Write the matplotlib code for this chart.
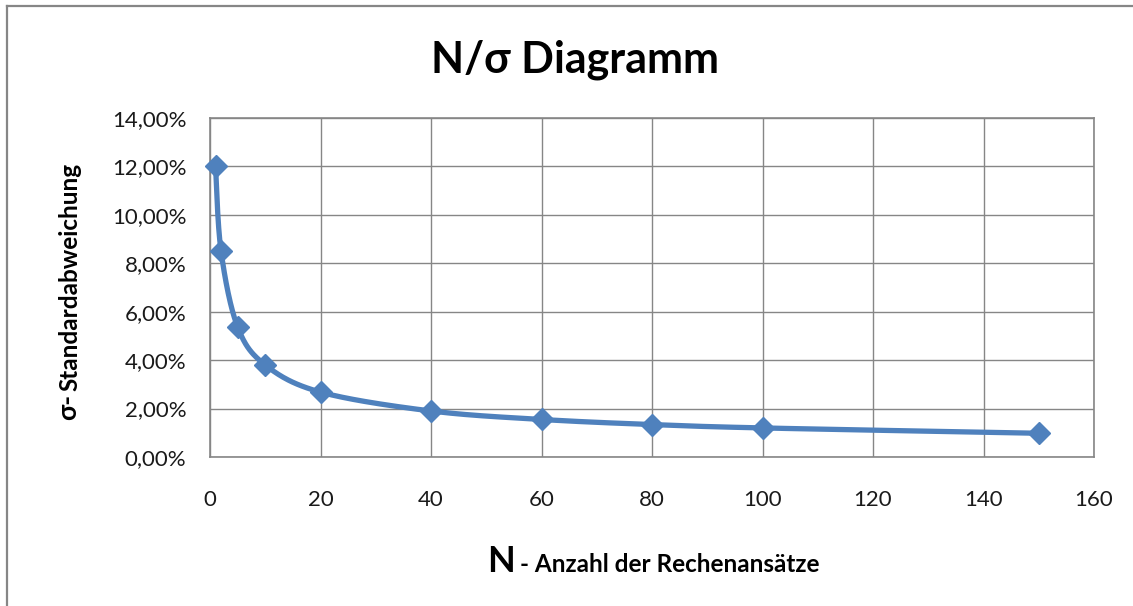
import matplotlib
matplotlib.use("Agg")
import matplotlib.pyplot as plt
import numpy as np
from matplotlib.ticker import FuncFormatter, MultipleLocator
from matplotlib.lines import Line2D

plt.rcParams['font.family'] = ['Lato', 'DejaVu Sans']

# data
n_values = [1, 2, 5, 10, 20, 40, 60, 80, 100, 150]
sigma_values = [0.120, 0.085, 0.0537, 0.038, 0.0268, 0.019, 0.0155, 0.0134, 0.012, 0.0098]

title = 'N/σ Diagramm'
blue = '#4F81BD'
gray = '#868686'

W, H = 1133, 606


def smooth_line(xs, ys, sx, sy, steps=40):
  # Catmull-Rom through the points, done in pixel-like units (like Excel "smoothed line")
  px = np.array(xs, float) * sx
  py = np.array(ys, float) * sy
  P = np.column_stack([px, py])
  P = np.vstack([P[0], P, P[-1]])
  out = []
  for i in range(1, len(P) - 2):
    p0, p1, p2, p3 = P[i - 1], P[i], P[i + 1], P[i + 2]
    c1 = p1 + (p2 - p0) / 6.0
    c2 = p2 - (p3 - p1) / 6.0
    t = np.linspace(0, 1, steps)[:, None]
    seg = (1 - t) ** 3 * p1 + 3 * (1 - t) ** 2 * t * c1 + 3 * (1 - t) * t ** 2 * c2 + t ** 3 * p2
    out.append(seg if i == 1 else seg[1:])
  out = np.vstack(out)
  return out[:, 0] / sx, out[:, 1] / sy


fig = plt.figure(figsize=(W / 100, H / 100), dpi=100)
ax = fig.add_axes([210 / W, 1 - 457 / H, (1094 - 210) / W, (457 - 118) / H])

ax.set_xlim(0, 160)
ax.set_ylim(0, 0.14)
ax.xaxis.set_major_locator(MultipleLocator(20))
ax.yaxis.set_major_locator(MultipleLocator(0.02))
ax.yaxis.set_major_formatter(FuncFormatter(lambda v, p: f"{v * 100:.2f}%".replace('.', ',')))
ax.grid(True, color=gray, linewidth=1.0)
ax.set_axisbelow(True)
for s in ax.spines.values():
  s.set_color(gray)
  s.set_linewidth(1.2)
ax.tick_params(length=0, labelsize=16, colors='#1a1a1a')
ax.tick_params(axis='x', pad=24)
ax.tick_params(axis='y', pad=17)

# pixel scale of the axes for the smoothing
sx = (1094 - 210) / 160
sy = (457 - 118) / 0.14
lx, ly = smooth_line(n_values, sigma_values, sx, sy)
ax.plot(lx, ly, color=blue, linewidth=3.8, solid_capstyle='round', zorder=3)
ax.plot(n_values, sigma_values, linestyle='none', marker='D', markersize=11,
        color=blue, zorder=4, clip_on=False)

fig.text(575 / W, 1 - 60 / H, title, ha='center', va='center', fontsize=31, fontweight='bold')

# x label: big bold N, then the rest
fig.canvas.draw()
r = fig.canvas.get_renderer()
tN = fig.text(487 / W, 1 - 572 / H, 'N', fontsize=26, fontweight='bold', ha='left', va='baseline')
bb = tN.get_window_extent(r)
fig.text((bb.x1 + 5) / W, 1 - 572 / H, '- Anzahl der Rechenansätze', fontsize=17.5,
         fontweight='bold', ha='left', va='baseline')

# y label: bold sigma then the rest, rotated
ts = fig.text(68 / W, 1 - 420 / H, 'σ-', fontsize=19, fontweight='bold', rotation=90,
              ha='center', va='bottom')
bb = ts.get_window_extent(r)
fig.text(70 / W, (bb.y1 + 3) / H, 'Standardabweichung', fontsize=17.5, fontweight='bold',
         rotation=90, ha='center', va='bottom')

# outer chart frame (only top and left edges visible)
fig.add_artist(Line2D([7 / W, 1.0], [1 - 6 / H, 1 - 6 / H], color=gray, linewidth=1.6))
fig.add_artist(Line2D([7 / W, 7 / W], [0.0, 1 - 6 / H], color=gray, linewidth=1.6))

fig.savefig('out.png', dpi=100)
